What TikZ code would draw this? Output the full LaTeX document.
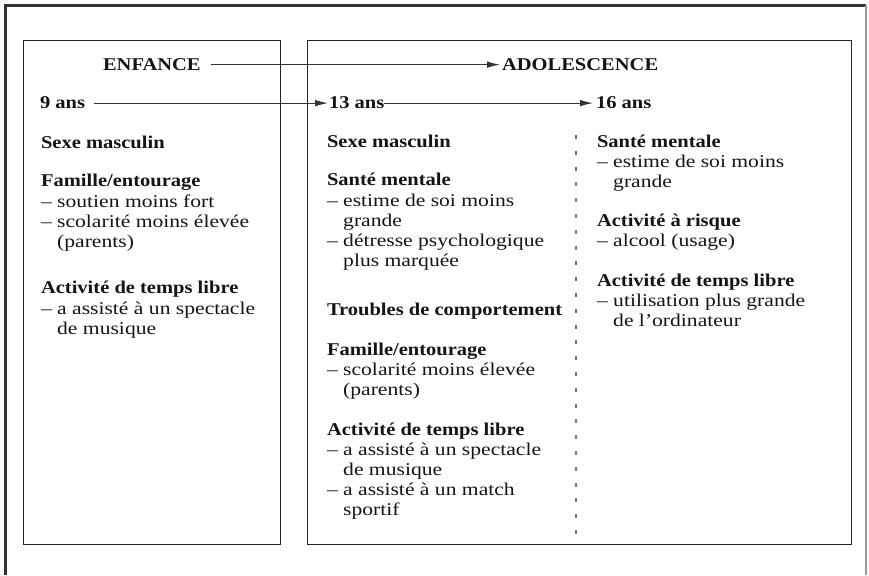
\documentclass[tikz,border=0pt]{standalone}
\usepackage{fontspec}
\setmainfont{Liberation Serif}[UprightFeatures={FakeStretch=1.2},BoldFeatures={FakeStretch=1.14}]
\usetikzlibrary{arrows.meta}
\newcommand{\hind}{\phantom{– }}
\begin{document}
\begin{tikzpicture}[x=1pt,y=-1pt,
  txt/.style={anchor=base west,inner sep=0pt,outer sep=0pt,font=\fontsize{18}{20}\selectfont,text=black!92},
  hd/.style={txt,font=\fontsize{18}{20}\selectfont\bfseries},
  boxline/.style={draw=black!85,line width=1pt},
  conn/.style={draw=black!80,line width=1.1pt},
  arr/.style={conn,-{Latex[length=13pt,width=6.5pt]}}]
\useasboundingbox (0,0) rectangle (869,575);
% outer frame
\draw[line width=2.5pt,black!80] (5.5,575) -- (5.5,5.3) -- (866,5.3);
\draw[line width=1.5pt,black!40] (866,5.3) -- (866,575);
% boxes
\draw[boxline] (23,41) rectangle (280,544);
\draw[boxline] (307,41) rectangle (851,544);
% dashed separator
\draw[black!55,line width=1.3pt,dash pattern=on 4pt off 11.8pt] (576,135) -- (576,538);
% headers
\node[hd] (enf) at (103,70.5) {ENFANCE};
\node[hd] (ado) at (502,70.5) {ADOLESCENCE};
\node[hd] (a9) at (40,109) {9 ans};
\node[hd] (a13) at (329,109) {13 ans};
\node[hd] (a16) at (596,109) {16 ans};
\draw[arr] ([xshift=10pt]enf.east) -- ([xshift=-2pt]ado.west);
\draw[arr] ([xshift=9pt]a9.east) -- ([xshift=-1pt]a13.west);
\draw[arr] (a13.east) -- ([xshift=-3pt]a16.west);
% left column
\node[hd] (l1) at (41,148) {Sexe masculin};
\node[hd] (l2) at (41,186) {Famille/entourage};
\node[txt] (l3) at (41,207) {– soutien moins fort};
\node[txt] (l4) at (41,227) {– scolarité moins élevée};
\node[txt] (l5) at (41,247) {\hind(parents)};
\node[hd] (l6) at (41,293) {Activité de temps libre};
\node[txt] (l7) at (41,314) {– a assisté à un spectacle};
\node[txt] (l8) at (41,334) {\hind de musique};
% middle column
\node[hd] (m1) at (327,147) {Sexe masculin};
\node[hd] (m2) at (327,185) {Santé mentale};
\node[txt] (m3) at (327,206) {– estime de soi moins};
\node[txt] (m4) at (327,226) {\hind grande};
\node[txt] (m5) at (327,246) {– détresse psychologique};
\node[txt] (m6) at (327,266) {\hind plus marquée};
\node[hd] (m7) at (327,315) {Troubles de comportement};
\node[hd] (m8) at (327,355) {Famille/entourage};
\node[txt] (m9) at (327,375) {– scolarité moins élevée};
\node[txt] (m10) at (327,395) {\hind(parents)};
\node[hd] (m11) at (327,435) {Activité de temps libre};
\node[txt] (m12) at (327,455) {– a assisté à un spectacle};
\node[txt] (m13) at (327,475) {\hind de musique};
\node[txt] (m14) at (327,495) {– a assisté à un match};
\node[txt] (m15) at (327,515) {\hind sportif};
% right column
\node[hd] (r1) at (597,147) {Santé mentale};
\node[txt] (r2) at (597,167) {– estime de soi moins};
\node[txt] (r3) at (597,187) {\hind grande};
\node[hd] (r4) at (597,226) {Activité à risque};
\node[txt] (r5) at (597,246) {– alcool (usage)};
\node[hd] (r6) at (597,286) {Activité de temps libre};
\node[txt] (r7) at (597,306) {– utilisation plus grande};
\node[txt] (r8) at (597,326) {\hind de l’ordinateur};
\end{tikzpicture}
\end{document}
